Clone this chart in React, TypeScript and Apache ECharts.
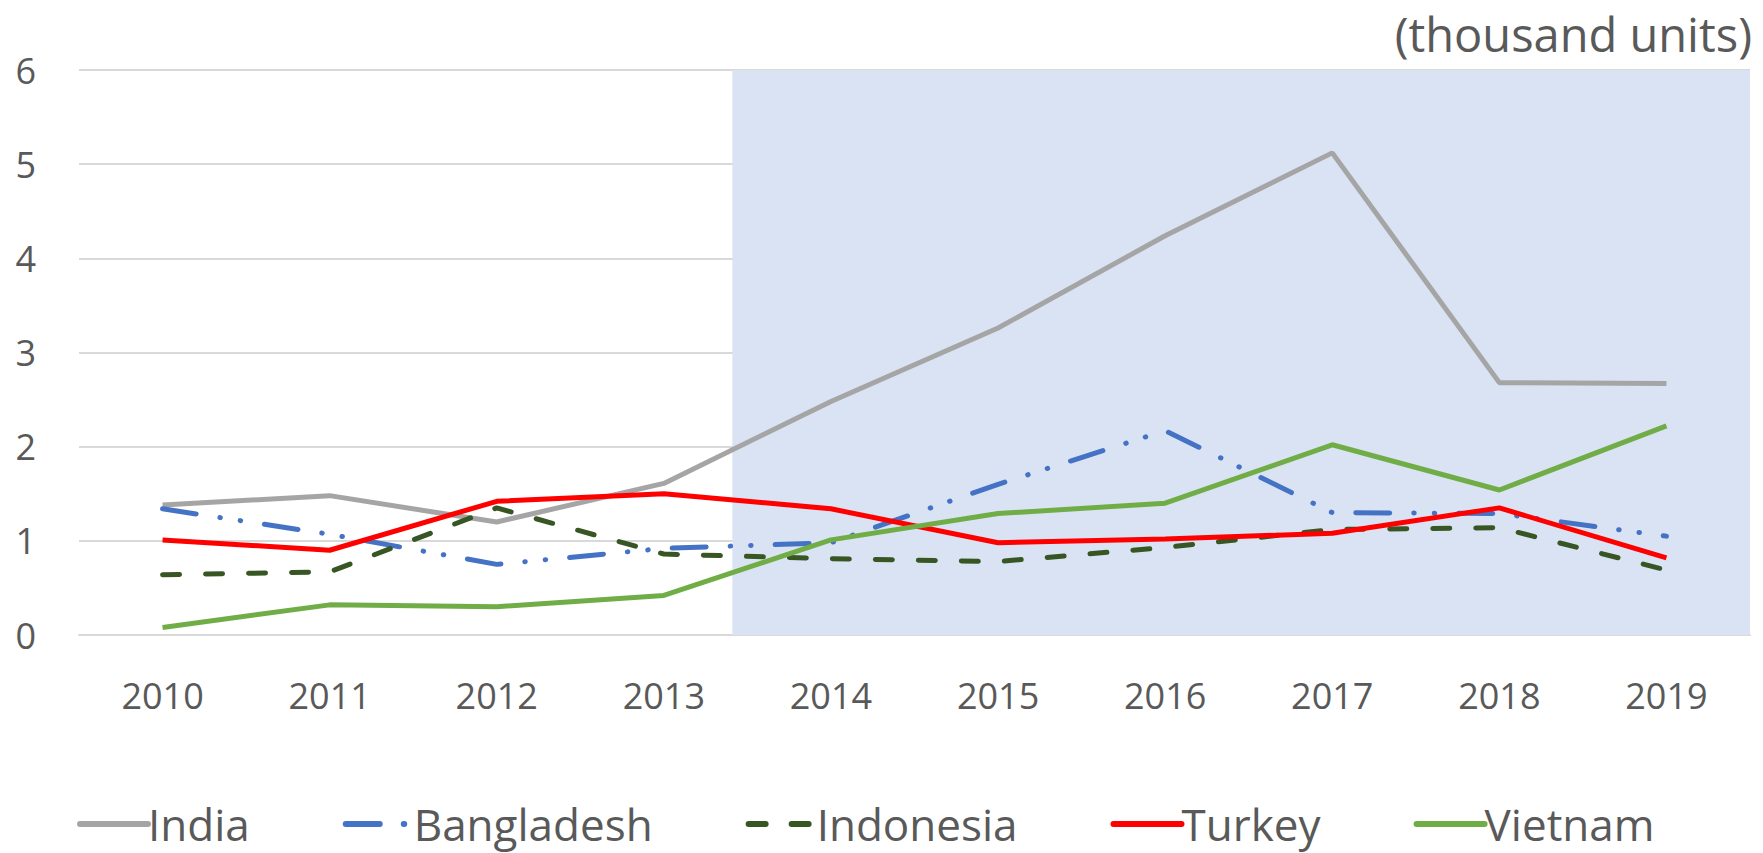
import React, { useEffect, useRef } from "react";
import * as echarts from "echarts";

const years = ["2010", "2011", "2012", "2013", "2014", "2015", "2016", "2017", "2018", "2019"];
const india = [1.38, 1.48, 1.2, 1.61, 2.48, 3.26, 4.24, 5.12, 2.68, 2.67];
const bangladesh = [1.34, 1.07, 0.75, 0.92, 0.98, 1.6, 2.17, 1.3, 1.29, 1.05];
const indonesia = [0.64, 0.67, 1.35, 0.86, 0.81, 0.78, 0.93, 1.12, 1.14, 0.69];
const turkey = [1.01, 0.9, 1.42, 1.5, 1.34, 0.98, 1.02, 1.08, 1.35, 0.82];
const vietnam = [0.08, 0.32, 0.3, 0.42, 1.01, 1.29, 1.4, 2.02, 1.54, 2.22];
const yTicks = { min: 0, max: 6, interval: 1 };
const shadeRange = [3.41, 9.5];
const unitLabel = "(thousand units)";

const FONT = "'Open Sans', 'Noto Sans', sans-serif";
const TEXT = "#595959";

export default function App() {
  const ref = useRef<HTMLDivElement>(null);
  useEffect(() => {
    document.body.style.margin = "0";
    const chart = echarts.init(ref.current!, null, { renderer: "svg" });
    const lineBase = { type: "line" as const, symbol: "none", z: 3, xAxisIndex: 0, yAxisIndex: 0 };
    chart.setOption({
      animation: false,
      backgroundColor: "#ffffff",
      textStyle: { fontFamily: FONT },
      title: {
        text: unitLabel,
        right: 6,
        top: 5,
        textStyle: { fontFamily: FONT, fontSize: 47, fontWeight: "normal", color: TEXT },
      },
      grid: { left: 79, right: 13, top: 70, bottom: 218, containLabel: false },
      xAxis: [
        {
          type: "category",
          data: years,
          boundaryGap: true,
          axisLine: { show: true, lineStyle: { color: "#D9D9D9", width: 2 } },
          axisTick: { show: false },
          axisLabel: { color: TEXT, fontSize: 36, fontFamily: FONT, margin: 42 },
          splitLine: { show: false },
        },
        { type: "value", min: -0.5, max: 9.5, show: false },
      ],
      yAxis: {
        type: "value",
        min: yTicks.min,
        max: yTicks.max,
        interval: yTicks.interval,
        z: 1,
        axisLine: { show: false },
        axisTick: { show: false },
        axisLabel: { color: TEXT, fontSize: 36, fontFamily: FONT, margin: 43 },
        splitLine: { show: true, lineStyle: { color: "#D9D9D9", width: 2 } },
      },
      legend: {
        bottom: 2,
        left: 72,
        itemWidth: 68,
        itemHeight: 14,
        itemGap: 93,
        itemStyle: { opacity: 0 },
        lineStyle: { width: 6, cap: "round" },
        textStyle: { color: TEXT, fontSize: 44, fontFamily: FONT, padding: [0, 0, 0, -5] },
        data: ["India", "Bangladesh", "Indonesia", "Turkey", "Vietnam"],
      },
      series: [
        {
          type: "line",
          name: "shade",
          xAxisIndex: 1,
          yAxisIndex: 0,
          z: 0,
          silent: true,
          symbol: "none",
          data: [],
          markArea: {
            silent: true,
            itemStyle: { color: "#DAE3F3" },
            data: [[{ coord: [shadeRange[0], yTicks.min] }, { coord: [shadeRange[1], yTicks.max] }]],
          },
        },
        {
          ...lineBase,
          name: "India",
          data: india,
          itemStyle: { color: "#A5A5A5" },
          lineStyle: { color: "#A5A5A5", width: 5 },
        },
        {
          ...lineBase,
          name: "Bangladesh",
          data: bangladesh,
          itemStyle: { color: "#4472C4" },
          lineStyle: { color: "#4472C4", width: 5, type: [34, 24, 0.5, 20, 0.5, 24], cap: "round" },
        },
        {
          ...lineBase,
          name: "Indonesia",
          data: indonesia,
          itemStyle: { color: "#375623" },
          lineStyle: { color: "#375623", width: 5, type: [17, 26], cap: "round" },
        },
        {
          ...lineBase,
          name: "Turkey",
          data: turkey,
          itemStyle: { color: "#FF0000" },
          lineStyle: { color: "#FF0000", width: 5 },
        },
        {
          ...lineBase,
          name: "Vietnam",
          data: vietnam,
          itemStyle: { color: "#70AD47" },
          lineStyle: { color: "#70AD47", width: 5 },
        },
      ],
    });
    return () => chart.dispose();
  }, []);
  return <div ref={ref} style={{ width: 1763, height: 853 }} />;
}
